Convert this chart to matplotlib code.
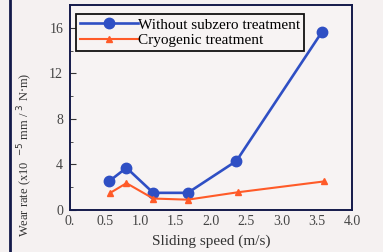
import matplotlib
matplotlib.use("Agg")
import matplotlib.pyplot as plt
from matplotlib.lines import Line2D

# data
speed_a = [0.55, 0.80, 1.18, 1.67, 2.36, 3.57]
wear_a = [2.5, 3.7, 1.5, 1.5, 4.3, 15.6]
speed_b = [0.57, 0.80, 1.18, 1.67, 2.38, 3.60]
wear_b = [1.5, 2.35, 1.0, 0.9, 1.55, 2.5]
labels = ["Without subzero treatment", "Cryogenic treatment"]
xticks = [0, 0.5, 1.0, 1.5, 2.0, 2.5, 3.0, 3.5, 4.0]
xticklabels = ["0.", "0.5", "1.0", "1.5", "2.0", "2.5", "3.0", "3.5", "4.0"]
yticks = [0, 4, 8, 12, 16]

plt.rcParams['font.family'] = ['Liberation Serif', 'DejaVu Serif']
bg = '#f5f1f1'
navy = '#141a4a'

fig = plt.figure(figsize=(3.83, 2.52), dpi=100, facecolor=bg)
ax = fig.add_axes([0.183, 0.167, 0.736, 0.813])
ax.set_facecolor('#f7f3f3')

ax.plot(speed_a, wear_a, color='#2f4fc4', lw=1.9, marker='o', ms=7.5, label=labels[0])
ax.plot(speed_b, wear_b, color='#ff5a28', lw=1.5, marker='^', ms=4.5, label=labels[1])

ax.set_xlim(0, 4.0)
ax.set_ylim(0, 18)
ax.set_xticks(xticks)
ax.set_xticklabels(xticklabels)
ax.set_yticks(yticks)
ax.set_yticks([2, 6, 10, 14], minor=True)
ax.tick_params(axis='y', direction='in', length=4, labelsize=10, colors='#333333', labelcolor='#444444', pad=5)
ax.tick_params(axis='y', which='minor', direction='in', length=2.5, colors='#333333')
ax.tick_params(axis='x', length=0, labelsize=10, labelcolor='#444444', pad=4)
for s in ax.spines.values():
    s.set_color(navy)
    s.set_linewidth(1.4)

ax.set_xlabel("Sliding speed (m/s)", fontsize=11, color='#333333', labelpad=4)
ax.set_ylabel("Wear rate (x10  $^{-5}$ mm / $^{3}$ N$\\cdot$m)", fontsize=9, color='#333333')
ax.yaxis.set_label_coords(-0.125, 0.27)

leg = ax.legend(loc='upper left', bbox_to_anchor=(0.02, 0.955), fontsize=11,
                frameon=True, fancybox=False, borderpad=0.25, handlelength=3.8,
                handletextpad=0.0, labelspacing=0.12, borderaxespad=0)
leg.get_frame().set_edgecolor('#111111')
leg.get_frame().set_linewidth(1.3)
leg.get_frame().set_facecolor('#f7f3f3')
leg.get_frame().set_alpha(1)

# dark scan edge at the left
fig.add_artist(Line2D([0.026, 0.026], [0, 1], transform=fig.transFigure, color=navy, lw=2))

fig.savefig("out.png", dpi=100, facecolor=bg)
